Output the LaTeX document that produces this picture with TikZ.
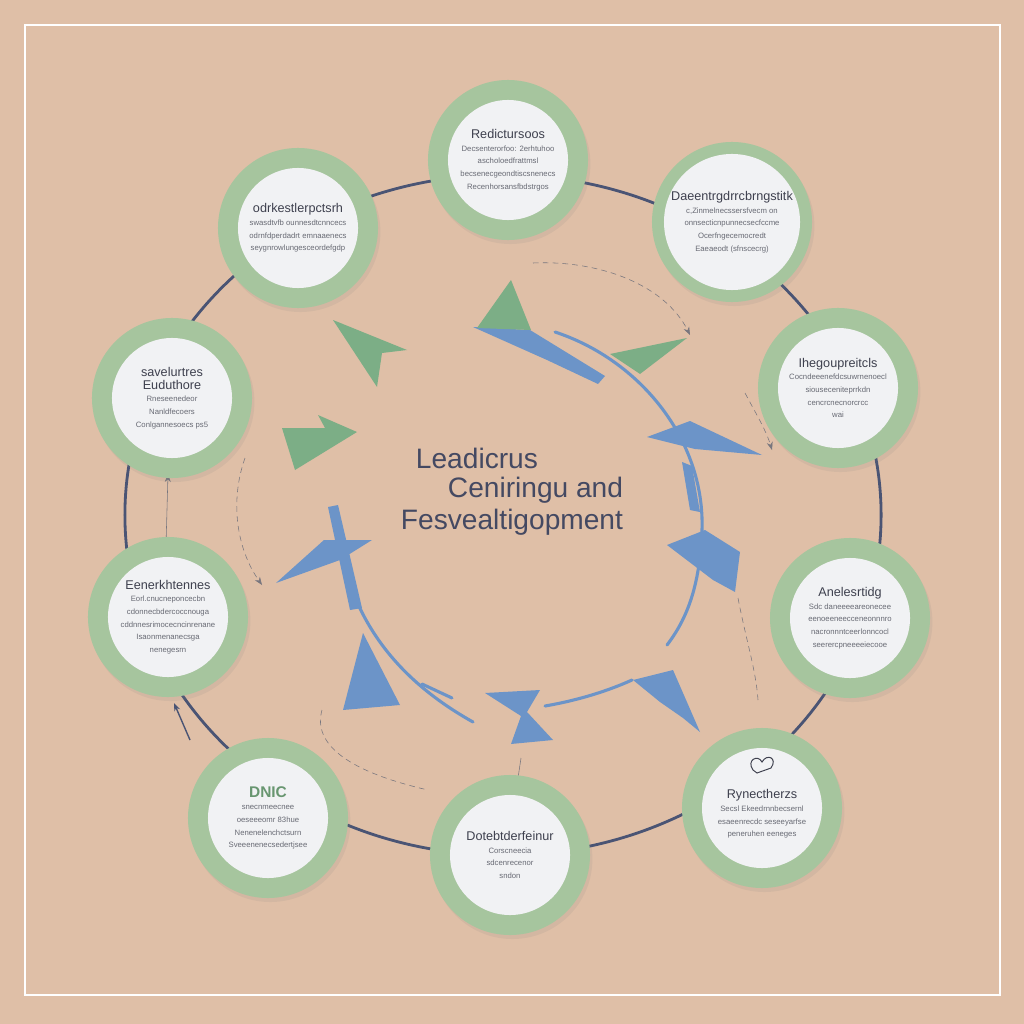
\documentclass[tikz,border=0pt]{standalone}
\usepackage{fontspec}
\setmainfont{Liberation Sans}
\usepackage{xcolor}
\usepackage{tikz}
\usetikzlibrary{arrows.meta, positioning, calc, shadows}
\definecolor{bgpeach}{RGB}{223,191,167}
\definecolor{ringgreen}{RGB}{166,197,158}
\definecolor{discwhite}{RGB}{241,242,244}
\definecolor{loopcolor}{RGB}{74,84,116}
\definecolor{flowblue}{RGB}{108,148,200}
\definecolor{leafgreen}{RGB}{124,174,134}
\definecolor{headgray}{RGB}{62,64,78}
\definecolor{bodygray}{RGB}{104,106,116}
\definecolor{titlecolor}{RGB}{68,73,98}
\definecolor{dashgray}{RGB}{120,118,126}
\definecolor{dnicgreen}{RGB}{104,150,112}
\newcommand{\topichead}[1]{{\fontsize{9}{11}\selectfont\color{headgray}#1}}

\begin{document}
\begin{tikzpicture}[
    x=0.025cm, y=-0.025cm,
    >={Stealth[length=2mm]},
    ring/.style={circle, fill=ringgreen, minimum size=4cm, inner sep=0pt,
        drop shadow={opacity=0.12, shadow xshift=0.6mm, shadow yshift=-1mm}},
    disc/.style={circle, fill=discwhite, minimum size=3cm, inner sep=0pt, align=center,
        text=bodygray, font=\fontsize{5.5}{9}\selectfont},
    title/.style={anchor=west, text=titlecolor, font=\fontsize{20}{24}\selectfont},
    bigloop/.style={draw=loopcolor, line width=2pt},
    flowline/.style={draw=flowblue, line width=2.2pt, line cap=round},
    flowhead/.style={fill=flowblue},
    leaf/.style={fill=leafgreen},
    dashlink/.style={draw=dashgray, thin, dashed, dash pattern=on 4pt off 3pt},
    thinlink/.style={draw=dashgray, thin},
]
    % Background and frame
    \useasboundingbox (0,0) rectangle (1024,1024);
    \fill[bgpeach] (0,0) rectangle (1024,1024);
    \draw[white, line width=2pt] (25,25) rectangle (1000,995);

    % Outer loop
    \draw[bigloop] (503,515) ellipse [x radius=9.45cm, y radius=8.5cm];
    \coordinate (lefttail) at (166,545);
    \coordinate (lefttip) at (168,474);
    \draw[thinlink, ->] (lefttail) -- (lefttip);
    \coordinate (lowtail) at (190,740);
    \coordinate (lowtip) at (174,703);
    \draw[loopcolor, line width=1pt, ->] (lowtail) -- (lowtip);

    % Dashed links
    \coordinate (dtopa) at (533,263);
    \coordinate (dtopb) at (690,335);
    \draw[dashlink, ->] (dtopa) .. controls (600,260) and (665,285) .. (dtopb);
    \coordinate (drighta) at (745,393);
    \coordinate (drightb) at (772,450);
    \draw[dashlink, ->] (drighta) .. controls (755,412) and (766,430) .. (drightb);
    \coordinate (dlefta) at (245,458);
    \coordinate (dleftb) at (262,585);
    \draw[dashlink, ->] (dlefta) .. controls (230,500) and (236,548) .. (dleftb);
    \coordinate (dlowa) at (322,710);
    \coordinate (dlowb) at (428,790);
    \draw[dashlink] (dlowa) .. controls (312,745) and (350,772) .. (dlowb);
    \coordinate (dlrighta) at (738,598);
    \coordinate (dlrightb) at (758,700);
    \draw[dashlink] (dlrighta) .. controls (746,640) and (756,670) .. (dlrightb);
    \coordinate (dbota) at (521,758);
    \coordinate (dbotb) at (518,778);
    \draw[thinlink] (dbota) -- (dbotb);

    % Inner blue cycle
    \coordinate (arcr1) at (555,332);
    \coordinate (arcr2) at (702,530);
    \coordinate (arcr3) at (667,645);
    \draw[flowline] (arcr1) .. controls (640,360) and (705,440) .. (arcr2)
        .. controls (700,580) and (690,615) .. (arcr3);
    \coordinate (arcl1) at (335,520);
    \coordinate (arcl2) at (473,722);
    \draw[flowline] (arcl1) .. controls (345,600) and (380,670) .. (arcl2);
    \coordinate (arcb1) at (545,706);
    \coordinate (arcb2) at (632,680);
    \draw[flowline] (arcb1) .. controls (580,700) and (610,690) .. (arcb2);
    \coordinate (arcs1) at (422,684);
    \coordinate (arcs2) at (452,698);
    \draw[flowline] (arcs1) -- (arcs2);

    % Blue arrowheads
    \fill[flowhead] (473,327) -- (530,330) -- (605,376) -- (598,384) -- (547,360) -- cycle;
    \fill[flowhead] (647,437) -- (690,421) -- (762,455) -- (695,449) -- cycle;
    \fill[flowhead] (682,462) -- (692,466) -- (700,512) -- (690,510) -- cycle;
    \fill[flowhead] (667,545) -- (705,530) -- (740,552) -- (735,592) -- (713,580) -- cycle;
    \fill[flowhead] (633,680) -- (673,670) -- (700,732) -- (683,718) -- (660,702) -- cycle;
    \fill[flowhead] (485,693) -- (540,690) -- (527,712) -- (553,740) -- (511,744) -- (521,716) -- cycle;
    \fill[flowhead] (363,633) -- (400,705) -- (343,710) -- cycle;
    \fill[flowhead] (276,583) -- (324,540) -- (372,540) -- (340,560) -- cycle;
    \fill[flowhead] (328,507) -- (338,505) -- (362,608) -- (350,610) -- cycle;

    % Green arrowheads
    \fill[leaf] (477,328) -- (511,280) -- (531,330) -- cycle;
    \fill[leaf] (333,320) -- (407,350) -- (382,353) -- (377,387) -- cycle;
    \fill[leaf] (610,354) -- (687,338) -- (640,374) -- cycle;
    \fill[leaf] (282,428) -- (325,428) -- (318,415) -- (357,432) -- (295,470) -- cycle;

    % Topic circles
    \node[ring] (redictring) at (508,160) {};
    \node[disc] (redict) at (redictring) {\topichead{Redictursoos}\\
        Decsenterorfoo: 2erhtuhoo\\ ascholoedfrattmsl\\
        becsenecgeondtiscsnenecs\\ Recenhorsansfbdstrgos};

    \node[ring] (odrkring) at (298,228) {};
    \node[disc] (odrk) at (odrkring) {\topichead{odrkestlerpctsrh}\\
        swasdtvfb ounnesdtcnncecs\\ odrnfdperdadrt emnaaenecs\\
        seygnrowlungesceordefgdp};

    \node[ring] (daeenring) at (732,222) {};
    \node[disc] (daeen) at (daeenring) {\topichead{Daeentrgdrrcbrngstitk}\\
        c,Zinmelnecssersfvecm on\\ onnsecticnpunnecsecfccme\\
        Ocerfngecemocredt\\ Eaeaeodt (sfnscecrg)};

    \node[ring] (saveluring) at (172,398) {};
    \node[disc] (savelu) at (saveluring) {\topichead{savelurtres}\\ \topichead{Euduthore}\\
        Rneseenedeor\\ Nanldfecoers\\ Conlgannesoecs ps5};

    \node[ring] (ihegoring) at (838,388) {};
    \node[disc] (ihego) at (ihegoring) {\topichead{Ihegoupreitcls}\\
        Cocndeeenefdcsuwrnenoecl\\ siouseceniteprrkdn\\
        cencrcnecnorcrcc\\ wai};

    \node[ring] (eenerring) at (168,617) {};
    \node[disc] (eener) at (eenerring) {\topichead{Eenerkhtennes}\\
        Eorl.cnucneponcecbn\\ cdonnecbdercoccnouga\\
        cddnnesrimocecncinrenane\\ Isaonmenanecsga\\ nenegesrn};

    \node[ring] (anelering) at (850,618) {};
    \node[disc] (anele) at (anelering) {\topichead{Anelesrtidg}\\
        Sdc daneeeeareonecee\\ eenoeeneecceneonnnro\\
        nacronnntceerlonncocl\\ seerercpneeeeiecooe};

    \node[ring] (dnicring) at (268,818) {};
    \node[disc] (dnic) at (dnicring) {{\fontsize{11}{13}\selectfont\bfseries\color{dnicgreen}DNIC}\\
        snecnmeecnee\\ oeseeeomr 83hue\\
        Nenenelenchctsurn\\ Sveeenenecsedertjsee};

    \node[ring] (dotebring) at (510,855) {};
    \node[disc] (doteb) at (dotebring) {\topichead{Dotebtderfeinur}\\
        Corscneecia\\ sdcenrecenor\\ sndon};

    \node[ring] (rynecring) at (762,808) {};
    \node[disc] (rynec) at (rynecring) {\mbox{}\\[6pt]
        \topichead{Rynectherzs}\\
        Secsl Ekeedrnnbecsernl\\ esaeenrecdc seseeyarfse\\ peneruhen eeneges};
    % small heart icon
    \draw[headgray, line width=0.7pt] (753,770) .. controls (746,760) and (758,754) .. (762,762)
        .. controls (767,753) and (778,758) .. (771,768) -- (757,773) -- cycle;

    % Centre title
    \node[title] (lead) at (411,458) {Leadicrus};
    \node[title] (cent) at (443,490) {Ceniringu and};
    \node[title] (fesv) at (396,522) {Fesvealtigopment};
\end{tikzpicture}
\end{document}
